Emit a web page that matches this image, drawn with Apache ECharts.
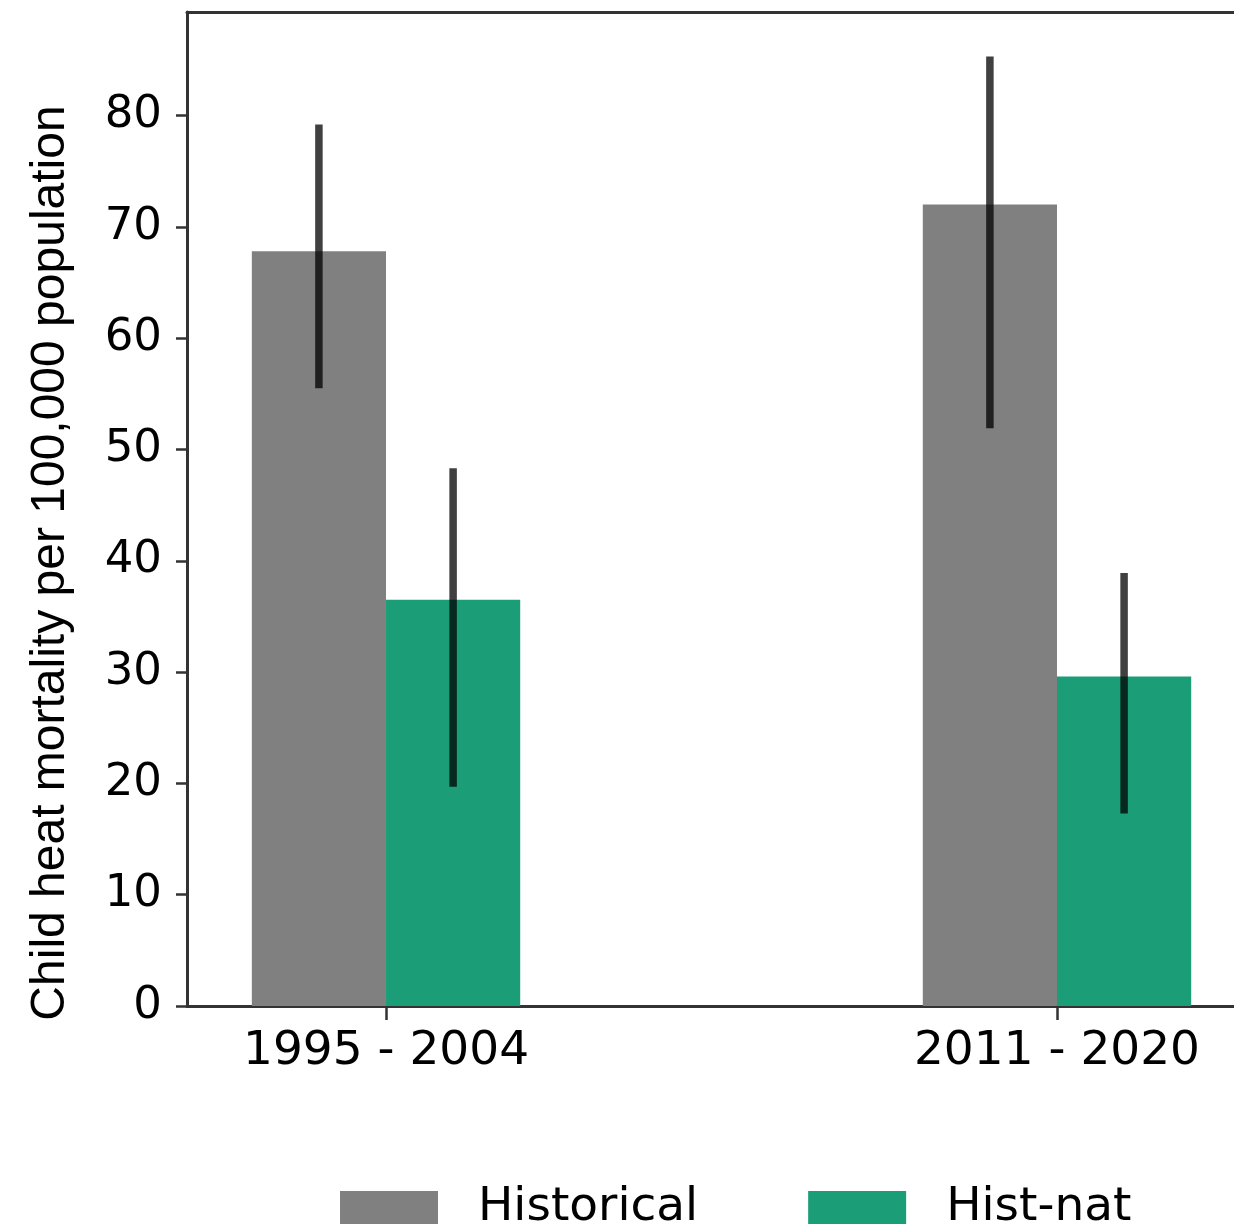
<!DOCTYPE html>
<html>
<head>
<meta charset="utf-8">
<script src="https://cdn.jsdelivr.net/npm/echarts@6/dist/echarts.min.js"></script>
<style>
html,body{margin:0;padding:0;background:#fff;}
#chart{width:1234px;height:1229px;}
</style>
</head>
<body>
<div id="chart"></div>
<script>
// ---- data ----
var categories = ['1995 - 2004', '2011 - 2020'];
var seriesNames = ['Historical', 'Hist-nat'];
var historical = [67.8, 72.0];
var historicalLow = [55.5, 51.9];
var historicalHigh = [79.2, 85.3];
var histNat = [36.5, 29.6];
var histNatLow = [19.7, 17.3];
var histNatHigh = [48.3, 38.9];
var yTicks = [0, 10, 20, 30, 40, 50, 60, 70, 80];
var xTicks = [0, 1];

// ---- styling constants ----
var BAR_W = 0.2;
var OFFSETS = [-0.1, 0.1];
var COLORS = ['#808080', '#1b9e77'];
var AXIS_COLOR = '#333333';
var X_MIN = -0.2966, X_MAX = 1.2638;

var chart = echarts.init(document.getElementById('chart'), null, {renderer: 'canvas'});

function barSeries(name, values, idx) {
  return {
    name: name,
    type: 'custom',
    coordinateSystem: 'cartesian2d',
    itemStyle: {color: COLORS[idx]},
    data: values.map(function (v, i) { return [i, v]; }),
    encode: {x: 0, y: 1},
    z: 2,
    renderItem: function (params, api) {
      var x = api.value(0) + OFFSETS[idx];
      var p0 = api.coord([x - BAR_W / 2, api.value(1)]);
      var p1 = api.coord([x + BAR_W / 2, 0]);
      return {
        type: 'rect',
        shape: {x: p0[0], y: p0[1], width: p1[0] - p0[0], height: p1[1] - p0[1]},
        style: {fill: COLORS[idx]}
      };
    }
  };
}

function errSeries(name, lows, highs, idx) {
  return {
    name: name + ' error',
    type: 'custom',
    coordinateSystem: 'cartesian2d',
    data: lows.map(function (lo, i) { return [i, lo, highs[i]]; }),
    encode: {x: 0, y: [1, 2]},
    z: 5,
    silent: true,
    renderItem: function (params, api) {
      var x = api.value(0) + OFFSETS[idx];
      var a = api.coord([x, api.value(1)]);
      var b = api.coord([x, api.value(2)]);
      return {
        type: 'line',
        shape: {x1: a[0], y1: a[1], x2: b[0], y2: b[1]},
        style: {stroke: 'rgba(0,0,0,0.75)', lineWidth: 7.5, lineCap: 'butt'}
      };
    }
  };
}

var option = {
  animation: false,
  backgroundColor: '#ffffff',
  grid: {left: 187, right: 0, top: 12, bottom: 223, show: false, containLabel: false},
  graphic: [{
    type: 'text',
    x: 51, y: 563,
    rotation: Math.PI / 2,
    style: {
      text: 'Child heat mortality per 100,000 population',
      font: '48px "Liberation Sans", Arial, sans-serif',
      fill: '#000',
      align: 'center',
      verticalAlign: 'middle'
    }
  }],
  legend: {
    left: 340,
    top: 1184,
    padding: 0,
    itemWidth: 98,
    itemHeight: 33,
    itemGap: 110,
    icon: 'rect',
    selectedMode: false,
    data: [
      {name: seriesNames[0], itemStyle: {color: COLORS[0]}},
      {name: seriesNames[1], itemStyle: {color: COLORS[1]}}
    ],
    textStyle: {fontFamily: '"DejaVu Sans"', fontSize: 47, color: '#000', padding: [4, 0, 0, 35]}
  },
  xAxis: [{
    type: 'value',
    min: X_MIN,
    max: X_MAX,
    splitLine: {show: false},
    axisLine: {show: true, onZero: false, lineStyle: {color: AXIS_COLOR, width: 3}},
    axisTick: {show: true, customValues: xTicks, length: 14, lineStyle: {color: AXIS_COLOR, width: 2.5}},
    axisLabel: {
      customValues: xTicks,
      formatter: function (v) { return categories[Math.round(v)]; },
      fontFamily: '"DejaVu Sans"', fontSize: 47, color: '#000', margin: 22
    }
  }, {
    type: 'value',
    position: 'top',
    min: X_MIN,
    max: X_MAX,
    splitLine: {show: false},
    axisLine: {show: true, onZero: false, lineStyle: {color: AXIS_COLOR, width: 3}},
    axisTick: {show: false},
    axisLabel: {show: false}
  }],
  yAxis: {
    type: 'value',
    min: 0,
    max: 89.3,
    splitLine: {show: false},
    axisLine: {show: true, onZero: false, lineStyle: {color: AXIS_COLOR, width: 3}},
    axisTick: {show: true, customValues: yTicks, length: 11, lineStyle: {color: AXIS_COLOR, width: 2.5}},
    axisLabel: {
      customValues: yTicks,
      fontFamily: '"DejaVu Sans"', fontSize: 45, color: '#000', margin: 25,
      padding: [8, 0, 0, 0]
    }
  },
  series: [
    barSeries(seriesNames[0], historical, 0),
    barSeries(seriesNames[1], histNat, 1),
    errSeries(seriesNames[0], historicalLow, historicalHigh, 0),
    errSeries(seriesNames[1], histNatLow, histNatHigh, 1)
  ]
};
chart.setOption(option);
</script>
</body>
</html>
